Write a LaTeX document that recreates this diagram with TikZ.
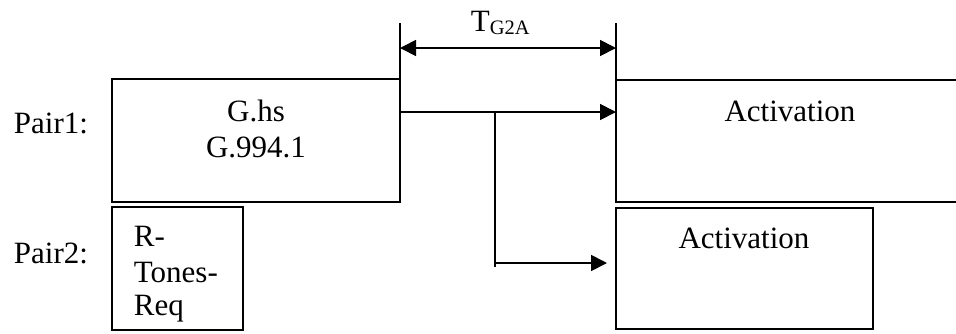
\documentclass[tikz,border=0pt]{standalone}
\usepackage{fontspec}
\setmainfont{Liberation Serif}
\usetikzlibrary{arrows.meta}
\begin{document}
\begin{tikzpicture}[x=1pt,y=-1pt, line width=1.8pt,
  box/.style={draw, rectangle, inner sep=0pt, outer sep=0pt, anchor=north west},
  lbl/.style={font=\fontsize{31}{36}\selectfont, inner sep=0pt, anchor=base},
  lblw/.style={lbl, anchor=base west},
  tip/.style={-{Triangle[length=16pt,width=16pt]}},
  dtip/.style={{Triangle[length=16pt,width=16pt]}-{Triangle[length=16pt,width=16pt]}}]
\useasboundingbox (0,0) rectangle (956,333);
% boxes
\node[box, minimum width=288pt, minimum height=123pt] (ghs) at (112,79) {};
\node[box, minimum width=131pt, minimum height=123pt] (rtr) at (112,207) {};
\node[box, minimum width=257pt, minimum height=121pt] (act2) at (616,208) {};
% open activation box of pair 1
\coordinate (a1ne) at (960,80);
\coordinate (a1nw) at (616,80);
\coordinate (a1sw) at (616,202);
\coordinate (a1se) at (960,202);
\draw (a1ne) -- (a1nw) -- (a1sw) -- (a1se);
% marker lines
\coordinate (m1) at (400,23);
\coordinate (m2) at (616,23);
\draw (ghs.north east) -- (m1);
\draw (m2) -- (a1nw);
% timing arrow
\coordinate (t1) at (400,48);
\coordinate (t2) at (616,48);
\draw[dtip] (t1) -- (t2);
\node[lblw] (tlab) at (470,31) {T\raisebox{-3pt}{\fontsize{20.5}{20.5}\selectfont G2A}};
% flow arrows
\coordinate (b1) at (400,112);
\coordinate (b2) at (616,112);
\coordinate (br) at (495,112);
\coordinate (brb) at (495,267);
\coordinate (l1) at (495,263);
\coordinate (l2) at (607,263);
\draw[tip] (b1) -- (b2);
\draw (br) -- (brb);
\draw[tip] (l1) -- (l2);
% texts
\node[lblw] (p1) at (13,133) {Pair1:};
\node[lblw] (p2) at (13,263) {Pair2:};
\node[lbl] (g1) at (256,121) {G.hs};
\node[lbl] (g2) at (256,157) {G.994.1};
\node[lbl] (ac1) at (790,121) {Activation};
\node[lbl] (ac2) at (744,248) {Activation};
\node[lblw] (r1) at (133,246) {R-};
\node[lblw] (r2) at (133,282) {Tones-};
\node[lblw] (r3) at (133,315) {Req};
\end{tikzpicture}
\end{document}
